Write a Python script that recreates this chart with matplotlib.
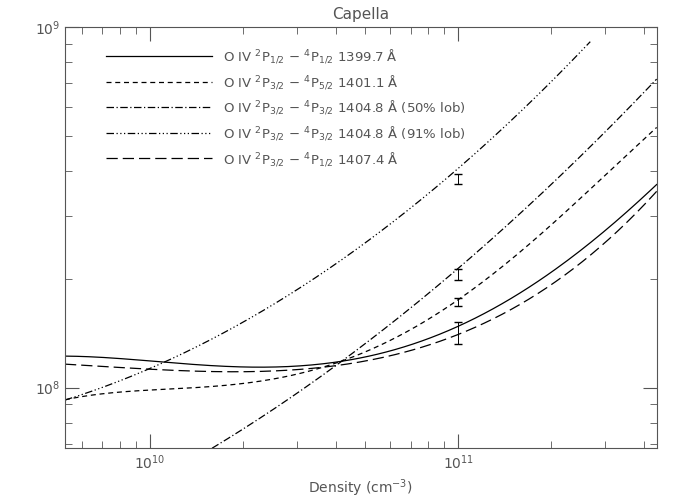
import numpy as np
import matplotlib
matplotlib.use("Agg")
import matplotlib.pyplot as plt
from matplotlib.ticker import NullFormatter

dens = [5.3e9, 1e10, 2e10, 4e10, 1e11, 2e11, 4.4e11]
l1399 = [1.226e8, 1.18e8, 1.14e8, 1.195e8, 1.448e8, 2.12e8, 3.65e8]
l1407 = [1.165e8, 1.12e8, 1.10e8, 1.18e8, 1.36e8, 1.97e8, 3.49e8]
l1401 = [9.3e7, 9.7e7, 1.04e8, 1.18e8, 1.71e8, 2.88e8, 5.25e8]
dens50 = [1.59e10, 2e10, 4e10, 1e11, 2e11, 4.4e11]
l1404_50 = [6.8e7, 7.6e7, 1.18e8, 2.06e8, 3.77e8, 7.13e8]
dens91 = [5.3e9, 1e10, 2e10, 4e10, 1e11, 2e11, 2.68e11]
l1404_91 = [8.97e7, 1.14e8, 1.59e8, 2.3e8, 3.7e8, 6.6e8, 1.0e9]
obs_x = [1e11, 1e11, 1e11, 1e11]
obs_y = [3.8e8, 2.06e8, 1.73e8, 1.42e8]
obs_err = [0.12e8, 0.07e8, 0.04e8, 0.1e8]
labels = [r"O IV $^2$P$_{1/2}$ $-$ $^4$P$_{1/2}$ 1399.7 Å",
          r"O IV $^2$P$_{3/2}$ $-$ $^4$P$_{5/2}$ 1401.1 Å",
          r"O IV $^2$P$_{3/2}$ $-$ $^4$P$_{3/2}$ 1404.8 Å (50% lob)",
          r"O IV $^2$P$_{3/2}$ $-$ $^4$P$_{3/2}$ 1404.8 Å (91% lob)",
          r"O IV $^2$P$_{3/2}$ $-$ $^4$P$_{1/2}$ 1407.4 Å"]

def smooth(x, y, deg=4):
    lx = np.log10(x); ly = np.log10(y)
    xs = np.linspace(lx[0], lx[-1], 200)
    c = np.polyfit(lx, ly, min(deg, len(lx) - 1))
    return 10**xs, 10**np.polyval(c, xs)

fig = plt.figure(figsize=(6.84, 5.04), dpi=100)
ax = fig.add_axes([0.095, 0.111, 0.865, 0.835])
gray = "#555555"
styles = [(l1399, dens, "-", 4), (l1401, dens, (0, (4, 3)), 4),
          (l1404_50, dens50, (0, (6, 2, 1, 2)), 3),
          (l1404_91, dens91, (0, (6, 2, 1, 2, 1, 2, 1, 2)), 2),
          (l1407, dens, (0, (9, 4)), 4)]
handles = []
for (y, x, ls, deg), lab in zip(styles, labels):
    xs, ys = smooth(x, y, deg)
    h, = ax.plot(xs, ys, ls=ls, color="black", lw=0.9, label=lab)
    handles.append(h)
ax.errorbar(obs_x, obs_y, yerr=obs_err, fmt="none", ecolor="black", lw=0.7, capsize=3)
ax.set_xscale("log"); ax.set_yscale("log")
ax.set_xlim(5.3e9, 4.4e11); ax.set_ylim(6.8e7, 1e9)
ax.yaxis.set_minor_formatter(NullFormatter())
ax.xaxis.set_minor_formatter(NullFormatter())
ax.tick_params(which="both", direction="in", top=True, right=True, colors=gray, labelsize=10)
ax.tick_params(which="major", length=10)
ax.tick_params(which="minor", length=5)
for s in ax.spines.values():
    s.set_color(gray)
ax.set_title("Capella", color=gray, fontsize=11)
ax.set_xlabel(r"Density (cm$^{-3}$)", color=gray, fontsize=10)
leg = ax.legend(handles=handles, loc="upper left", frameon=False, fontsize=9.5,
                handlelength=8, labelspacing=0.6, bbox_to_anchor=(0.05, 0.98))
for t in leg.get_texts():
    t.set_color(gray)
fig.savefig("out.png", dpi=100)
